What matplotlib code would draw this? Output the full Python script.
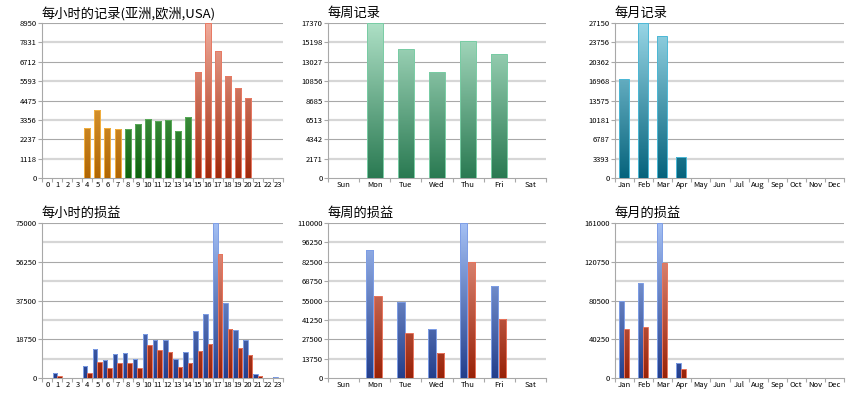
import numpy as np
import matplotlib.pyplot as plt
from matplotlib.colors import LinearSegmentedColormap

plt.rcParams['font.family'] = ['Noto Sans CJK SC', 'DejaVu Sans']

# categories
hours = [str(h) for h in range(24)]
days = ['Sun', 'Mon', 'Tue', 'Wed', 'Thu', 'Fri', 'Sat']
months = ['Jan', 'Feb', 'Mar', 'Apr', 'May', 'Jun',
          'Jul', 'Aug', 'Sep', 'Oct', 'Nov', 'Dec']

# records
hour_records = [0, 0, 0, 0, 2913, 3910, 2875, 2817, 2836, 3124, 3392, 3316,
                3335, 2721, 3507, 6094, 8950, 7340, 5903, 5213, 4600, 0, 0, 0]
hour_region = ['', '', '', '', 'asia', 'asia', 'asia', 'asia',
               'europe', 'europe', 'europe', 'europe', 'europe', 'europe', 'europe',
               'usa', 'usa', 'usa', 'usa', 'usa', 'usa', '', '', '']
day_records = [0, 17370, 14432, 11865, 15287, 13911, 0]
month_records = [17267, 27150, 24824, 3721, 0, 0, 0, 0, 0, 0, 0, 0]

# profit (blue / red)
hour_profit_a = [0, 2409, 320, 300, 6103, 13972, 8994, 11884, 12045, 9315,
                 21520, 18469, 18469, 9475, 12527, 22966, 30996, 75000,
                 36135, 23287, 18469, 1927, 300, 400]
hour_profit_b = [0, 964, 200, 200, 2409, 7869, 4818, 7227, 7227, 4818,
                 15899, 13490, 12848, 5460, 7388, 13009, 16702, 59904,
                 23769, 14615, 11081, 1124, 200, 300]
day_profit_a = [0, 90450, 53704, 34861, 110000, 65482, 0]
day_profit_b = [0, 57944, 31799, 17666, 82206, 41692, 0]
month_profit_a = [80330, 98257, 161000, 15514, 0, 0, 0, 0, 0, 0, 0, 0]
month_profit_b = [50679, 52748, 118940, 9653, 0, 0, 0, 0, 0, 0, 0, 0]


def cmap(bottom, top):
    return LinearSegmentedColormap.from_list('g', [bottom, top])


ORANGE = (cmap('#b06604', '#ffc460'), '#f2b040')
GREEN = (cmap('#0e620e', '#80cc80'), '#5aaa5a')
RED = (cmap('#a02a0c', '#f0ac9c'), '#e87a64')
MINT = (cmap('#2a7a52', '#aee0c6'), '#78cca4')
TEAL = (cmap('#06637c', '#98d6e6'), '#4cb8d6')
BLUE = (cmap('#243f8c', '#a4c0f4'), '#7e9ee6')
BRICK = (cmap('#982208', '#eca090'), '#e8745c')

GRID_DARK = '#a8a8a8'
GRID_LIGHT = '#d6d6d6'


def grad_bars(ax, xs, vals, width, ymax, style):
    cm, edge = style
    bars = ax.bar(xs, vals, width=width, facecolor='none', edgecolor=edge,
                  linewidth=0.7, zorder=4)
    for b, v in zip(bars, vals):
        if v <= 0:
            continue
        x0 = b.get_x()
        grad = np.linspace(0, v / ymax, 100).reshape(-1, 1)
        im = ax.imshow(grad, cmap=cm, vmin=0, vmax=1, origin='lower',
                       extent=(x0, x0 + b.get_width(), 0, v), aspect='auto',
                       interpolation='bilinear', zorder=3)
        im.set_clip_path(b)


def setup(ax, cats, ymax, title, every=1):
    n = len(cats)
    ax.set_xlim(-0.5, n - 0.5)
    ax.set_ylim(0, ymax)
    for i in range(1, 9):
        y = ymax * i / 8
        if i % 2 == 0:
            ax.axhline(y, color=GRID_DARK, lw=0.8, zorder=1)
        else:
            ax.axhline(y, color=GRID_LIGHT, lw=1.6, zorder=1)
    ticks = [ymax * i / 8 for i in range(0, 9, every)]
    ax.set_yticks(ticks)
    ax.set_yticklabels([str(int(t)) for t in ticks])
    ax.set_xticks(np.arange(-0.5, n, 1))
    ax.set_xticklabels([])
    ax.set_xticks(np.arange(n), minor=True)
    ax.set_xticklabels(cats, minor=True)
    ax.tick_params(axis='x', which='major', length=3, color=GRID_DARK)
    ax.tick_params(axis='x', which='minor', length=0, pad=2, labelsize=5.5)
    ax.tick_params(axis='y', length=3, color=GRID_DARK, pad=1, labelsize=5.5)
    for s in ['top', 'right']:
        ax.spines[s].set_visible(False)
    for s in ['left', 'bottom']:
        ax.spines[s].set_color(GRID_DARK)
        ax.spines[s].set_linewidth(0.8)
    ax.set_title(title, loc='left', fontsize=9.5, pad=4, x=-0.005)


fig = plt.figure(figsize=(8.6, 4.0), dpi=100)
W, H = 860, 400


def add_axes(l, t, r, b):
    return fig.add_axes([l / W, 1 - b / H, (r - l) / W, (b - t) / H])


ax1 = add_axes(42.3, 22.7, 283, 178.3)
ax2 = add_axes(328.3, 22.7, 545.7, 178.3)
ax3 = add_axes(615.3, 22.7, 843.7, 178.3)
ax4 = add_axes(42.3, 222.7, 283, 378.3)
ax5 = add_axes(328.3, 222.7, 545.7, 378.3)
ax6 = add_axes(615.3, 222.7, 843.7, 378.3)

# hourly records
ymax = max(hour_records)
styles = {'asia': ORANGE, 'europe': GREEN, 'usa': RED}
for reg, st in styles.items():
    idx = [i for i, r in enumerate(hour_region) if r == reg]
    grad_bars(ax1, idx, [hour_records[i] for i in idx], 0.6, ymax, st)
setup(ax1, hours, ymax, '每小时的记录(亚洲,欧洲,USA)')

# weekly records
ymax = max(day_records)
grad_bars(ax2, np.arange(len(days)), day_records, 0.5, ymax, MINT)
setup(ax2, days, ymax, '每周记录')

# monthly records
ymax = max(month_records)
grad_bars(ax3, np.arange(len(months)) - 0.05, month_records, 0.5, ymax, TEAL)
setup(ax3, months, ymax, '每月记录')

# hourly profit
ymax = max(hour_profit_a)
x = np.arange(len(hours))
grad_bars(ax4, x - 0.24, hour_profit_a, 0.45, ymax, BLUE)
grad_bars(ax4, x + 0.2, hour_profit_b, 0.43, ymax, BRICK)
setup(ax4, hours, ymax, '每小时的损益', every=2)

# weekly profit
ymax = max(day_profit_a)
x = np.arange(len(days))
grad_bars(ax5, x - 0.16, day_profit_a, 0.23, ymax, BLUE)
grad_bars(ax5, x + 0.1, day_profit_b, 0.23, ymax, BRICK)
setup(ax5, days, ymax, '每周的损益')

# monthly profit
ymax = max(month_profit_a)
x = np.arange(len(months))
grad_bars(ax6, x - 0.18, month_profit_a, 0.26, ymax, BLUE)
grad_bars(ax6, x + 0.08, month_profit_b, 0.26, ymax, BRICK)
setup(ax6, months, ymax, '每月的损益', every=2)

fig.savefig('out.png', dpi=100, facecolor='white')
